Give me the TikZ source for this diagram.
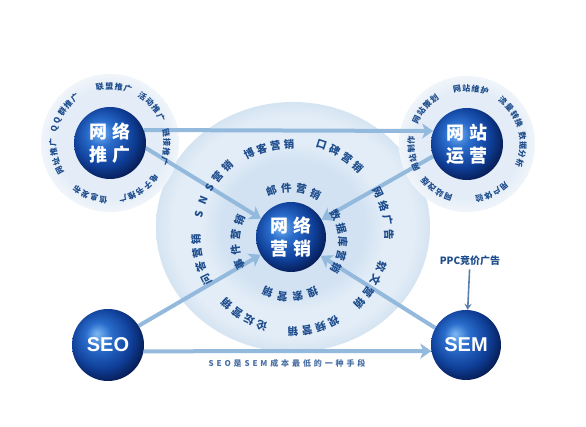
\documentclass[tikz,border=0pt]{standalone}
\usepackage{fontspec}
\setmainfont{Noto Sans CJK SC}
\newfontfamily\lat{Liberation Sans}
\usetikzlibrary{arrows.meta}
\definecolor{arrc}{HTML}{93B9DD}
\definecolor{lblc}{HTML}{1D4C8C}
\definecolor{ppcc}{HTML}{5B80AA}
\definecolor{spA}{HTML}{7DB8F4}
\definecolor{spB}{HTML}{2A6DCC}
\definecolor{spC}{HTML}{0F3F98}
\definecolor{spD}{HTML}{061A50}
\definecolor{bgA}{HTML}{D2E2F2}
\definecolor{bgB}{HTML}{E3EDF7}
\definecolor{bgC}{HTML}{D5E4F2}
\definecolor{haA}{HTML}{E4EDF7}
\definecolor{haB}{HTML}{F0F5FA}
\pgfdeclareradialshading{sphere}{\pgfpoint{-8bp}{8bp}}{color(0bp)=(spA); color(9bp)=(spB); color(21bp)=(spC); color(30bp)=(spD); color(50bp)=(spD)}
\pgfdeclareradialshading{bigbg}{\pgfpoint{0bp}{0bp}}{color(0bp)=(bgA); color(13bp)=(bgA); color(17bp)=(bgB); color(22bp)=(bgB); color(25bp)=(bgC); color(50bp)=(bgC)}
\pgfdeclareradialshading{halo}{\pgfpoint{0bp}{0bp}}{color(0bp)=(haA); color(20bp)=(haA); color(25bp)=(haB); color(50bp)=(haB)}
\pgfdeclarelayer{bg}
\pgfdeclarelayer{mid}
\pgfsetlayers{bg,mid,main}
\tikzset{
  sph/.style={circle, minimum size=72pt, inner sep=0pt, shading=sphere, text=white, align=center},
  cjksph/.style={sph, font=\bfseries\fontsize{18}{23}\selectfont},
  latsph/.style={sph, font=\lat\bfseries\fontsize{20}{22}\selectfont},
  rl/.style={inner sep=0pt, text=lblc, font=\bfseries\fontsize{8}{9}\selectfont},
  rlb/.style={inner sep=0pt, text=lblc, font=\bfseries\fontsize{10.5}{11}\selectfont},
  arr/.style={draw=arrc, line width=4pt, -{Stealth[length=11pt,width=15pt,inset=3pt]}},
  thinarr/.style={draw=ppcc, line width=1.6pt, -{Stealth[length=6pt,width=7pt]}},
}
\newcommand\ringlabel[7][rl]{%
  \foreach \ch [count=\i] in {#7} {%
    \pgfmathsetmacro\ang{#5+((#6)+1)/2*(#4)-\i*(#4)}%
    \node[#1, rotate=\ang-90] at ([shift={(\ang:#3)}]#2) {\ch};
  }}
\begin{document}
\begin{tikzpicture}[x=1pt,y=1pt]
\useasboundingbox (0,0) rectangle (586,427);
\begin{pgfonlayer}{bg}
  \fill[white] (0,0) rectangle (586,427);
  \shade[shading=bigbg] (293,200) ellipse [x radius=137, y radius=125];
  \shade[shading=halo] (110,284) circle (69);
  \shade[shading=halo] (467,283) circle (68);
\end{pgfonlayer}
% spheres
\node[cjksph] (tg) at (110,284) {网\hspace{5pt}络\\推\hspace{5pt}广};
\node[cjksph] (yy) at (467,283) {网\hspace{5pt}站\\运\hspace{5pt}营};
\node[cjksph, minimum size=70pt] (yx) at (291,190) {网\hspace{5pt}络\\营\hspace{5pt}销};
\node[latsph] (seo) at (108,82) {SEO};
\node[latsph, minimum size=70pt] (sem) at (466,82) {SEM};
\node[text=lblc, font=\bfseries\fontsize{10}{11}\selectfont] (ppc) at (470,166) {PPC竞价广告};
\node[text=lblc!80, font=\bfseries\fontsize{8}{9}\addfontfeatures{LetterSpace=36}\selectfont] (cap) at (287,64) {SEO是SEM成本最低的一种手段};
% arrows
\begin{pgfonlayer}{mid}
  \draw[arr] (tg.21) -- (yy.159);
  \draw[arr] (tg.-8) -- (yx);
  \draw[arr] (yy.200) -- (yx);
  \draw[arr] (seo.32) -- (yx);
  \draw[arr] (sem.151) -- (yx);
  \draw[arr] (seo.-10) -- (sem.190);
  \draw[thinarr] (ppc) -- (sem);
\end{pgfonlayer}
% ring labels around 网络推广
\coordinate (tgc) at (110,284);
\ringlabel{tgc}{57}{9.5}{147}{5}{Q,Q,群,推,广}
\ringlabel{tgc}{57}{9.5}{86}{4}{联,盟,推,广}
\ringlabel{tgc}{57}{9.5}{41}{4}{活,动,推,广}
\ringlabel{tgc}{57}{9.5}{-4}{4}{链,接,推,广}
\ringlabel{tgc}{57}{9.5}{-58}{5}{电,子,书,推,广}
\ringlabel{tgc}{57}{9.5}{-111}{4}{信,息,发,布}
\ringlabel{tgc}{57}{9.5}{-166}{4}{网,址,推,广}
% ring labels around 网站运营
\coordinate (yyc) at (467,283);
\ringlabel{yyc}{56}{9.5}{140}{4}{网,站,策,划}
\ringlabel{yyc}{56}{9.5}{86}{4}{网,站,维,护}
\ringlabel{yyc}{56}{9.5}{36}{4}{流,量,转,换}
\ringlabel{yyc}{56}{9.5}{-6}{4}{数,据,分,析}
\ringlabel{yyc}{56}{9.5}{-63}{4}{用,户,体,验}
\ringlabel{yyc}{56}{9.5}{-124}{4}{网,站,改,版}
\ringlabel{yyc}{56}{9.5}{-170}{4}{网,站,制,作}
% inner ring of 网络营销
\coordinate (inc) at (290,185);
\ringlabel[rlb]{inc}{54}{16}{86}{4}{邮,件,营,销}
\ringlabel[rlb]{inc}{53}{15}{0}{5}{数,据,库,营,销}
\ringlabel[rlb]{inc}{55}{16}{180}{4}{事,件,营,销}
\ringlabel[rlb]{inc}{55}{16}{-90}{4}{搜,索,营,销}
% outer ring of 网络营销
\coordinate (outc) at (291,190);
\ringlabel[rlb]{outc}{95}{8.5}{149}{5}{S,N,S,营,销}
\ringlabel[rlb]{outc}{93}{8.5}{104}{4}{博,客,营,销}
\ringlabel[rlb]{outc}{97}{8.5}{59}{4}{口,碑,营,销}
\ringlabel[rlb]{outc}{98}{8.5}{14}{4}{网,络,广,告}
\ringlabel[rlb]{outc}{95}{8.5}{-31}{4}{软,文,营,销}
\ringlabel[rlb]{outc}{95}{8.5}{-76}{4}{视,频,营,销}
\ringlabel[rlb]{outc}{93}{8.5}{-121}{4}{论,坛,营,销}
\ringlabel[rlb]{outc}{95}{8.5}{-166}{4}{问,答,营,销}
\end{tikzpicture}
\end{document}
